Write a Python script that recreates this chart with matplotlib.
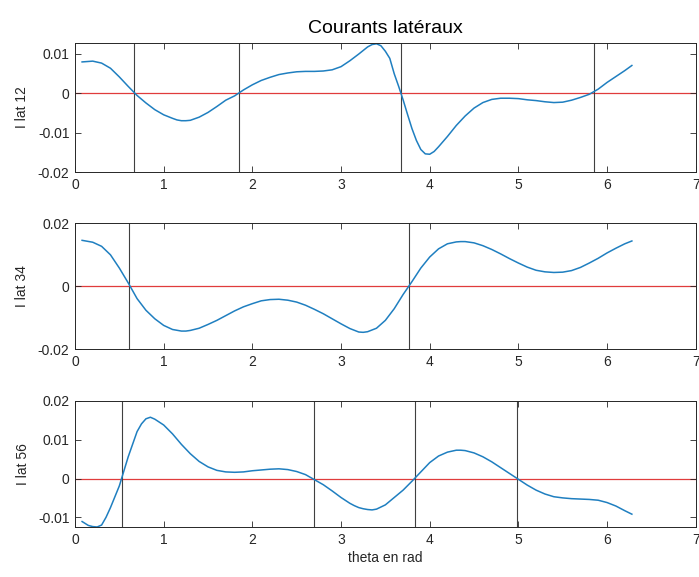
import numpy as np
import matplotlib
matplotlib.use("Agg")
import matplotlib.pyplot as plt
from matplotlib.ticker import FuncFormatter

plt.rcParams['font.family'] = ['Liberation Sans', 'DejaVu Sans']
plt.rcParams['axes.unicode_minus'] = False

# angle (rad) : pas de 0.1
theta = [0.08] + [round(0.2 + 0.1 * i, 1) for i in range(61)] + [6.28]

# courants
i_lat12 = [0.0079, 0.0081, 0.0076, 0.0063, 0.0041, 0.0017, -0.0006, -0.0025, -0.0042, -0.0055,
           -0.0064, -0.0070, -0.0069, -0.0061, -0.0049, -0.0034, -0.0018, -0.0007, 0.0008, 0.0021,
           0.0032, 0.0040, 0.0047, 0.0051, 0.0054, 0.0055, 0.0055, 0.0056, 0.0059, 0.0067,
           0.0082, 0.0099, 0.0117, 0.0125, 0.0106, 0.0049, -0.0017, -0.0090, -0.0143, -0.0155,
           -0.0136, -0.0110, -0.0082, -0.0058, -0.0038, -0.0024, -0.0016, -0.0013, -0.0013, -0.0014,
           -0.0017, -0.0019, -0.0022, -0.0024, -0.0023, -0.0018, -0.0011, -0.0003, 0.0010, 0.0027,
           0.0042, 0.0057, 0.0070]

i_lat34 = [0.0145, 0.0139, 0.0126, 0.0099, 0.0057, 0.0010, -0.0040, -0.0077, -0.0104, -0.0125,
           -0.0138, -0.0143, -0.0141, -0.0134, -0.0122, -0.0109, -0.0094, -0.0079, -0.0066, -0.0056,
           -0.0047, -0.0043, -0.0042, -0.0045, -0.0051, -0.0061, -0.0074, -0.0088, -0.0104, -0.0120,
           -0.0135, -0.0146, -0.0145, -0.0134, -0.0109, -0.0072, -0.0027, 0.0014, 0.0057, 0.0092,
           0.0118, 0.0134, 0.0140, 0.0141, 0.0137, 0.0128, 0.0116, 0.0102, 0.0087, 0.0073,
           0.0060, 0.0050, 0.0045, 0.0043, 0.0044, 0.0049, 0.0059, 0.0073, 0.0088, 0.0105,
           0.0120, 0.0134, 0.0143]

i_lat56 = [-0.0111, -0.0124, -0.0120, -0.0075, -0.0019, 0.0056, 0.0121, 0.0154, 0.0153, 0.0138,
           0.0115, 0.0088, 0.0064, 0.0044, 0.0030, 0.0021, 0.0017, 0.0016, 0.0017, 0.0020,
           0.0022, 0.0024, 0.0025, 0.0023, 0.0018, 0.0010, -0.0003, -0.0016, -0.0032, -0.0049,
           -0.0064, -0.0075, -0.0080, -0.0079, -0.0068, -0.0049, -0.0030, -0.0007, 0.0017, 0.0041,
           0.0058, 0.0068, 0.0073, 0.0072, 0.0066, 0.0056, 0.0043, 0.0028, 0.0013, -0.0002,
           -0.0017, -0.0030, -0.0040, -0.0047, -0.0050, -0.0052, -0.0053, -0.0054, -0.0056, -0.0062,
           -0.0071, -0.0083, -0.0092]

# points supplementaires pres des extremums
extra12_t = [1.15, 1.25, 3.35, 3.45, 3.55, 3.65, 3.75, 3.85, 3.95, 4.05]
extra12_v = [-0.0068, -0.0070, 0.0123, 0.0120, 0.0088, 0.0017, -0.0054, -0.0120, -0.0154, -0.0148]
extra34_t = [1.25, 3.25, 4.35]
extra34_v = [-0.0143, -0.0147, 0.0141]
extra56_t = [0.15, 0.25, 0.35, 0.75, 0.85, 3.15, 3.25, 3.35, 4.35]
extra56_v = [-0.0121, -0.0125, -0.0100, 0.0141, 0.0158, -0.0070, -0.0078, -0.0081, 0.0073]

# passages par zero (traits verticaux)
zeros12 = [0.67, 1.85, 3.68, 5.85]
zeros34 = [0.61, 3.77]
zeros56 = [0.53, 2.69, 3.83, 4.99]


def merge(t_extra, v_extra, values):
    t = np.array(theta + t_extra)
    v = np.array(values + v_extra)
    o = np.argsort(t)
    return t[o], v[o]


series = [merge(extra12_t, extra12_v, i_lat12),
          merge(extra34_t, extra34_v, i_lat34),
          merge(extra56_t, extra56_v, i_lat56)]
zeros = [zeros12, zeros34, zeros56]
labels = ['I lat 12', 'I lat 34', 'I lat 56']
ylims = [(-0.02, 0.0127), (-0.02, 0.02), (-0.0125, 0.02)]
yticks = [[-0.02, -0.01, 0, 0.01], [-0.02, 0, 0.02], [-0.01, 0, 0.01, 0.02]]

fig = plt.figure(figsize=(6.99, 5.77), dpi=100)
positions = [[0.1073, 0.7019, 0.888, 0.2236],
             [0.1073, 0.3951, 0.888, 0.2184],
             [0.1073, 0.0867, 0.888, 0.2184]]

fmt = FuncFormatter(lambda v, p: f'{v:g}')
axes = []
for k in range(3):
    ax = fig.add_axes(positions[k])
    ax.axhline(0, color='#e03c3c', lw=0.9, zorder=1)
    for z in zeros[k]:
        ax.axvline(z, color='#404040', lw=0.8, zorder=1)
    t, v = series[k]
    ax.plot(t, v, color='#1f7fc0', lw=1.1, zorder=2)
    ax.set_xlim(0, 7)
    ax.set_ylim(*ylims[k])
    ax.set_xticks(range(8))
    ax.set_yticks(yticks[k])
    ax.yaxis.set_major_formatter(fmt)
    ax.tick_params(direction='in', length=4, width=0.6, top=True, right=True,
                   labelsize=10, colors='#262626', pad=4)
    for s in ax.spines.values():
        s.set_color('#262626')
        s.set_linewidth(0.7)
    ax.set_ylabel(labels[k], fontsize=10, color='#262626', labelpad=6)
    axes.append(ax)

axes[0].set_title('Courants latéraux', fontsize=14, color='black', pad=7)
axes[2].set_xlabel('theta en rad', fontsize=10, color='#262626', labelpad=3)

fig.savefig('out.png', dpi=100)
